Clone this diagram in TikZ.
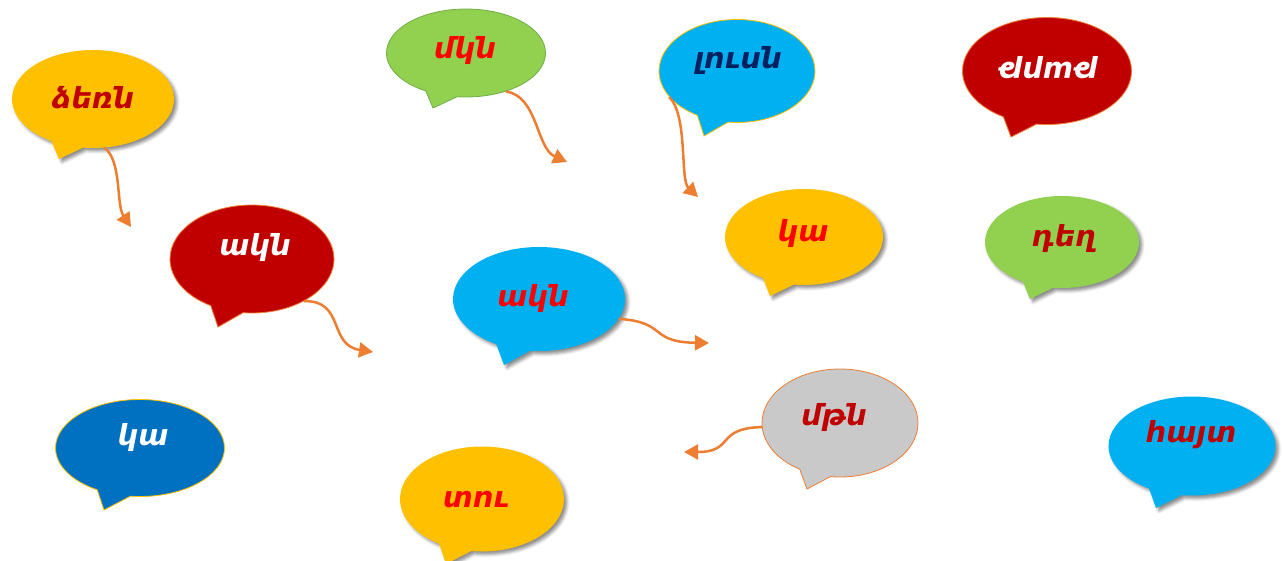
\documentclass[tikz,border=0pt]{standalone}
\usepackage{fontspec}
\newfontfamily\armfont{DejaVu Sans}
\usetikzlibrary{shapes.callouts}
\usetikzlibrary{shadows.blur}
\usetikzlibrary{arrows.meta}
\definecolor{gold}{HTML}{FFC000}
\definecolor{darkred}{HTML}{C00000}
\definecolor{leaf}{HTML}{92D050}
\definecolor{leafline}{HTML}{70AD47}
\definecolor{sky}{HTML}{00B0F0}
\definecolor{navy}{HTML}{002060}
\definecolor{deepblue}{HTML}{0070C0}
\definecolor{pebble}{HTML}{C9C9C9}
\definecolor{orangec}{HTML}{ED7D31}
\definecolor{brightred}{HTML}{FF0000}
\tikzset{%
  bubble/.style = {ellipse callout, inner sep=0pt, callout pointer arc=24},
  shade/.style  = {blur shadow={shadow xshift=3pt, shadow yshift=-3pt, shadow blur radius=3pt, shadow opacity=45}},
  rim/.style    = {draw=#1, line width=0.8pt},
  word/.style   = {font=\armfont\bfseries\itshape\fontsize{29}{32}\selectfont, inner sep=0pt},
  link/.style   = {draw=orangec, line width=2.5pt, -{Triangle[length=14pt,width=15pt]}}
}
\begin{document}
\begin{tikzpicture}[x=1pt, y=-1pt]
    \useasboundingbox (0,0) rectangle (1283,560);

    %top row
    \node[bubble, shade, fill=gold, minimum width=162, minimum height=98, callout absolute pointer={(59,159)}] (dzern) at (93,99) {};
    \node[word, text=darkred] (dzern-w) at (93,98) {ձեռն};
    \node[bubble, rim=leafline, fill=leaf, minimum width=159, minimum height=88, callout absolute pointer={(433,108)}] (mkn) at (466,53) {};
    \node[word, text=brightred] (mkn-w) at (465,50) {մկն};
    \node[bubble, rim=gold, fill=sky, minimum width=156, minimum height=103, callout absolute pointer={(704,136)}] (lusn) at (737,71) {};
    \node[word, text=navy] (lusn-w) at (738,60) {լուսն};
    \node[bubble, rim=orangec, fill=darkred, minimum width=169, minimum height=107, callout absolute pointer={(1011,137)}] (tart) at (1047,71) {};
    \node[word, text=white, rotate=180] (tart-w) at (1048,68) {թարթ};

    %middle row
    \node[bubble, rim=orangec, fill=darkred, minimum width=164, minimum height=108, callout absolute pointer={(218,327)}] (akn1) at (252,259) {};
    \node[word, text=white] (akn1-w) at (255,247) {ակն};
    \node[bubble, shade, fill=sky, minimum width=172, minimum height=104, callout absolute pointer={(504,365)}] (akn2) at (539,299) {};
    \node[word, text=brightred] (akn2-w) at (533,298) {ակն};
    \node[bubble, shade, fill=gold, minimum width=158, minimum height=96, callout absolute pointer={(770,296)}] (ka1) at (804,237) {};
    \node[word, text=brightred] (ka1-w) at (803,233) {կա};
    \node[bubble, shade, fill=leaf, minimum width=154, minimum height=92, callout absolute pointer={(1030,299)}] (degh) at (1062,242) {};
    \node[word, text=darkred] (degh-w) at (1064,238) {դեղ};

    %bottom row
    \node[bubble, rim=gold, fill=deepblue, minimum width=169, minimum height=97, callout absolute pointer={(104,510)}] (ka2) at (140,448) {};
    \node[word, text=white] (ka2-w) at (143,437) {կա};
    \node[bubble, shade, fill=gold, minimum width=164, minimum height=105, callout absolute pointer={(446,564)}] (tu) at (482,499) {};
    \node[word, text=brightred] (tu-w) at (476,500) {տու};
    \node[bubble, rim=orangec, fill=pebble, minimum width=156, minimum height=108, callout absolute pointer={(807,489)}] (mtn) at (840,423) {};
    \node[word, text=darkred] (mtn-w) at (834,417) {մթն};
    \node[bubble, shade, fill=sky, minimum width=167, minimum height=99, callout absolute pointer={(1156,508)}] (hayt) at (1192,446) {};
    \node[word, text=darkred] (hayt-w) at (1191,435) {հայտ};

    %arrows
    \coordinate (t1) at (131,227);
    \coordinate (t2) at (567,162);
    \coordinate (t3) at (698,197);
    \coordinate (t4) at (373,352);
    \coordinate (t5) at (709,343);
    \coordinate (t6) at (684,452);
    \draw[link] (dzern.-77) .. controls (122,160) and (116,205) .. (t1);
    \draw[link] (mkn.-44) .. controls (538,96) and (536,148) .. (t2);
    \draw[link] (lusn.-159) .. controls (688,115) and (680,180) .. (t3);
    \draw[link] (akn1.-39) .. controls (345,300) and (328,345) .. (t4);
    \draw[link] (akn2.-14) .. controls (668,322) and (648,342) .. (t5);
    \draw[link] (mtn.183) .. controls (715,428) and (735,452) .. (t6);
\end{tikzpicture}
\end{document}
